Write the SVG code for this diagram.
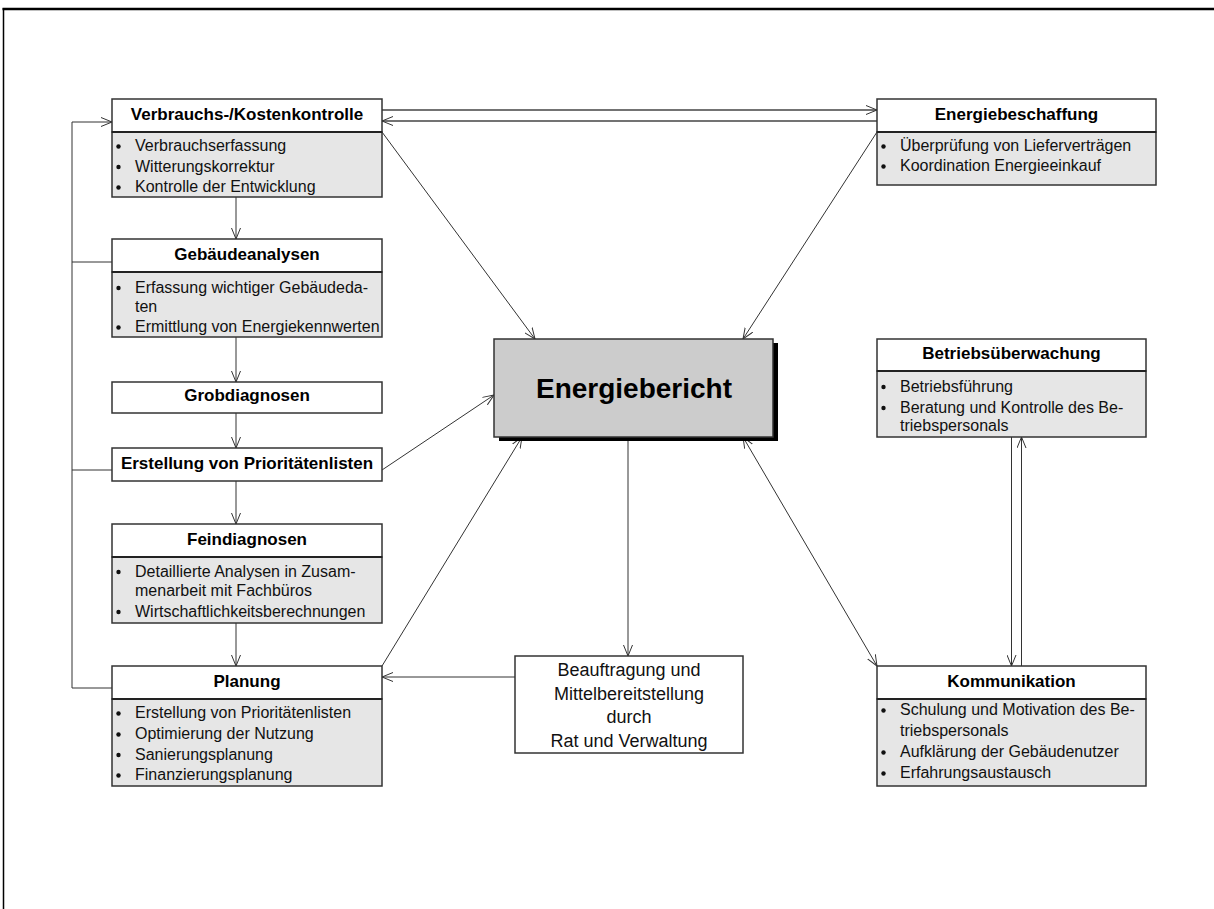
<svg xmlns="http://www.w3.org/2000/svg" width="1214" height="909" viewBox="0 0 1214 909">
<style>
.hdr{fill:#fff;stroke:#333;stroke-width:1.5}
.lst{fill:#e6e6e6;stroke:#333;stroke-width:1.5}
.sep{stroke:#222;stroke-width:2}
.t{font-family:"Liberation Sans",Arial,sans-serif;font-size:17px;font-weight:bold;fill:#000;text-anchor:middle}
.li{font-family:"Liberation Sans",Arial,sans-serif;font-size:16px;fill:#111}
.b{fill:#111}
.c{fill:none;stroke:#333;stroke-width:1}
.c2{fill:none;stroke:#444;stroke-width:1.5}
.big{font-family:"Liberation Sans",Arial,sans-serif;font-size:28px;font-weight:bold;fill:#000;text-anchor:middle}
.mid{font-family:"Liberation Sans",Arial,sans-serif;font-size:18px;fill:#111;text-anchor:middle}
</style>
<defs>
<marker id="ah" markerUnits="userSpaceOnUse" markerWidth="12" markerHeight="10" refX="11" refY="4.5" orient="auto-start-reverse" viewBox="0 0 12 9">
<path d="M0,0 L11,4.5 L0,9" fill="none" stroke="#333" stroke-width="1"/>
</marker>
</defs>
<rect width="1214" height="909" fill="#fff"/>
<g id="frame">
<line x1="2.5" y1="9" x2="1214" y2="9" stroke="#000" stroke-width="2.5"/>
<line x1="3.5" y1="8" x2="3.5" y2="909" stroke="#000" stroke-width="1.5"/>
</g>

<g id="connectors">
<!-- left feedback -->
<path class="c" d="M112,688 H72 V122 H112" marker-end="url(#ah)"/>
<line class="c" x1="72" y1="262" x2="112" y2="262"/>
<line class="c" x1="72" y1="470" x2="112" y2="470"/>
<!-- left vertical chain -->
<line class="c" x1="236" y1="197" x2="236" y2="239" marker-end="url(#ah)"/>
<line class="c" x1="236" y1="337" x2="236" y2="382" marker-end="url(#ah)"/>
<line class="c" x1="236" y1="413" x2="236" y2="448" marker-end="url(#ah)"/>
<line class="c" x1="236" y1="481" x2="236" y2="524" marker-end="url(#ah)"/>
<line class="c" x1="236" y1="623" x2="236" y2="666" marker-end="url(#ah)"/>
<!-- top horizontal pair -->
<line class="c2" x1="382" y1="110" x2="877" y2="110" marker-end="url(#ah)"/>
<line class="c2" x1="877" y1="121" x2="382" y2="121" marker-end="url(#ah)"/>
<!-- into Energiebericht -->
<line class="c" x1="382" y1="132" x2="535" y2="339" marker-end="url(#ah)"/>
<line class="c" x1="877" y1="132" x2="743" y2="339" marker-end="url(#ah)"/>
<line class="c" x1="382" y1="470" x2="494" y2="395" marker-end="url(#ah)"/>
<line class="c" x1="382" y1="666" x2="522" y2="437" marker-end="url(#ah)"/>
<line class="c" x1="743" y1="437" x2="877" y2="666" marker-start="url(#ah)" marker-end="url(#ah)"/>
<!-- Energiebericht to Beauftragung -->
<line class="c" x1="628" y1="437" x2="628" y2="656" marker-end="url(#ah)"/>
<!-- Beauftragung to Planung -->
<line class="c" x1="515" y1="677" x2="382" y2="677" marker-end="url(#ah)"/>
<!-- Betrieb / Kommunikation -->
<line class="c" x1="1011.5" y1="437" x2="1011.5" y2="666" marker-end="url(#ah)"/>
<line class="c" x1="1021.5" y1="666" x2="1021.5" y2="437" marker-end="url(#ah)"/>
</g>

<g id="verbrauch">
<rect class="lst" x="112" y="132" width="270" height="65"/>
<rect class="hdr" x="112" y="99" width="270" height="33"/>
<line class="sep" x1="112" y1="132" x2="382" y2="132"/>
<text class="t" x="247" y="119.5">Verbrauchs-/Kostenkontrolle</text>
<circle class="b" cx="118.5" cy="146.5" r="2.2"/><text class="li" x="135" y="151">Verbrauchserfassung</text>
<circle class="b" cx="118.5" cy="167" r="2.2"/><text class="li" x="135" y="171.5">Witterungskorrektur</text>
<circle class="b" cx="118.5" cy="187.5" r="2.2"/><text class="li" x="135" y="192">Kontrolle der Entwicklung</text>
</g>

<g id="gebaeude">
<rect class="lst" x="112" y="272" width="270" height="65"/>
<rect class="hdr" x="112" y="239" width="270" height="33"/>
<line class="sep" x1="112" y1="272" x2="382" y2="272"/>
<text class="t" x="247" y="259.5">Gebäudeanalysen</text>
<circle class="b" cx="118.5" cy="288" r="2.2"/><text class="li" x="135" y="292.5">Erfassung wichtiger Gebäudeda-</text>
<text class="li" x="135" y="311.5">ten</text>
<circle class="b" cx="118.5" cy="327.5" r="2.2"/><text class="li" x="135" y="332">Ermittlung von Energiekennwerten</text>
</g>

<g id="grob">
<rect class="hdr" x="112" y="382" width="270" height="31"/>
<text class="t" x="247" y="401">Grobdiagnosen</text>
</g>

<g id="erstellung">
<rect class="hdr" x="112" y="448" width="270" height="33"/>
<text class="t" x="247" y="468.5">Erstellung von Prioritätenlisten</text>
</g>

<g id="fein">
<rect class="lst" x="112" y="557" width="270" height="66"/>
<rect class="hdr" x="112" y="524" width="270" height="33"/>
<line class="sep" x1="112" y1="557" x2="382" y2="557"/>
<text class="t" x="247" y="544.5">Feindiagnosen</text>
<circle class="b" cx="118.5" cy="572" r="2.2"/><text class="li" x="135" y="576.5">Detaillierte Analysen in Zusam-</text>
<text class="li" x="135" y="595.5">menarbeit mit Fachbüros</text>
<circle class="b" cx="118.5" cy="612" r="2.2"/><text class="li" x="135" y="616.5">Wirtschaftlichkeitsberechnungen</text>
</g>

<g id="planung">
<rect class="lst" x="112" y="699" width="270" height="87"/>
<rect class="hdr" x="112" y="666" width="270" height="33"/>
<line class="sep" x1="112" y1="699" x2="382" y2="699"/>
<text class="t" x="247" y="686.5">Planung</text>
<circle class="b" cx="118.5" cy="713.5" r="2.2"/><text class="li" x="135" y="718">Erstellung von Prioritätenlisten</text>
<circle class="b" cx="118.5" cy="734.5" r="2.2"/><text class="li" x="135" y="739">Optimierung der Nutzung</text>
<circle class="b" cx="118.5" cy="755" r="2.2"/><text class="li" x="135" y="759.5">Sanierungsplanung</text>
<circle class="b" cx="118.5" cy="775.5" r="2.2"/><text class="li" x="135" y="780">Finanzierungsplanung</text>
</g>

<g id="beschaffung">
<rect class="lst" x="877" y="132" width="279" height="53"/>
<rect class="hdr" x="877" y="99" width="279" height="33"/>
<line class="sep" x1="877" y1="132" x2="1156" y2="132"/>
<text class="t" x="1016.5" y="119.5">Energiebeschaffung</text>
<circle class="b" cx="883.5" cy="146.5" r="2.2"/><text class="li" x="900" y="151">Überprüfung von Lieferverträgen</text>
<circle class="b" cx="883.5" cy="166.5" r="2.2"/><text class="li" x="900" y="171">Koordination Energieeinkauf</text>
</g>

<g id="energiebericht">
<rect x="499" y="343" width="279" height="98" fill="#000"/>
<rect x="494" y="339" width="279" height="98" fill="#cccccc" stroke="#333" stroke-width="1.5"/>
<text class="big" x="634" y="398">Energiebericht</text>
</g>

<g id="betrieb">
<rect class="lst" x="877" y="371" width="269" height="66"/>
<rect class="hdr" x="877" y="339" width="269" height="32"/>
<line class="sep" x1="877" y1="371" x2="1146" y2="371"/>
<text class="t" x="1011.5" y="359">Betriebsüberwachung</text>
<circle class="b" cx="883.5" cy="387" r="2.2"/><text class="li" x="900" y="391.5">Betriebsführung</text>
<circle class="b" cx="883.5" cy="408" r="2.2"/><text class="li" x="900" y="412.5">Beratung und Kontrolle des Be-</text>
<text class="li" x="900" y="431">triebspersonals</text>
</g>

<g id="beauftragung">
<rect x="515" y="656" width="228" height="97" fill="#fff" stroke="#333" stroke-width="1.5"/>
<text class="mid" x="629" y="676">Beauftragung und</text>
<text class="mid" x="629" y="699.5">Mittelbereitstellung</text>
<text class="mid" x="629" y="723">durch</text>
<text class="mid" x="629" y="746.5">Rat und Verwaltung</text>
</g>

<g id="kommunikation">
<rect class="lst" x="877" y="699" width="269" height="87"/>
<rect class="hdr" x="877" y="666" width="269" height="33"/>
<line class="sep" x1="877" y1="699" x2="1146" y2="699"/>
<text class="t" x="1011.5" y="686.5">Kommunikation</text>
<circle class="b" cx="883.5" cy="710.5" r="2.2"/><text class="li" x="900" y="715">Schulung und Motivation des Be-</text>
<text class="li" x="900" y="736">triebspersonals</text>
<circle class="b" cx="883.5" cy="752.5" r="2.2"/><text class="li" x="900" y="757">Aufklärung der Gebäudenutzer</text>
<circle class="b" cx="883.5" cy="773.5" r="2.2"/><text class="li" x="900" y="778">Erfahrungsaustausch</text>
</g>
</svg>
